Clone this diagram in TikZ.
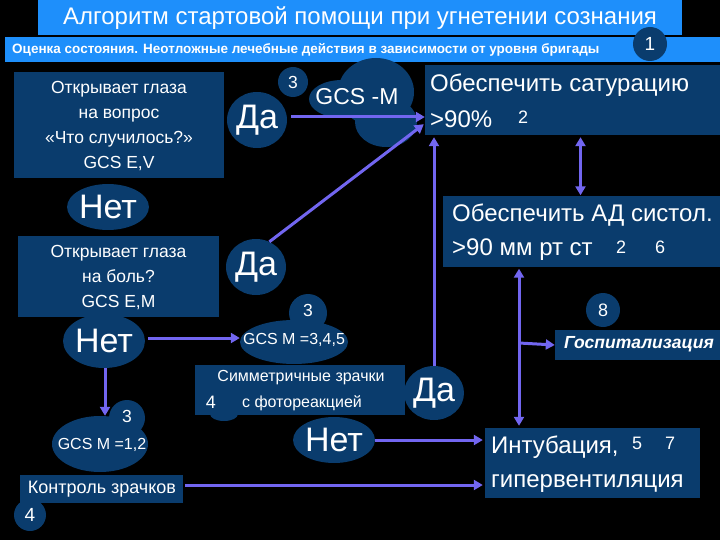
\documentclass[tikz,border=0pt]{standalone}
\usepackage{fontspec}
\setmainfont{Liberation Sans}
\usetikzlibrary{shapes.geometric,arrows.meta,calc}
\definecolor{brightblue}{HTML}{1E8FFB}
\definecolor{darkblue}{HTML}{0A3C6D}
\definecolor{arrowc}{HTML}{7266F0}
\newcommand{\fs}[1]{\fontsize{#1}{#1}\selectfont}
\newcommand{\fsl}[2]{\fontsize{#1}{#2}\selectfont}
\begin{document}
\begin{tikzpicture}[x=1pt,y=-1pt,
  box/.style={fill=darkblue, inner sep=0pt, text=white, align=center},
  oval/.style={ellipse, fill=darkblue, text=white, inner sep=0pt},
  blob/.style={fill=darkblue},
  txt/.style={text=white, inner sep=0pt},
  conn/.style={draw=arrowc, line width=3pt, -{Triangle[length=9pt,width=10pt]}},
  dconn/.style={draw=arrowc, line width=3pt, {Triangle[length=9pt,width=10pt]}-{Triangle[length=9pt,width=10pt]}},
  plain/.style={draw=arrowc, line width=3pt}
]
\fill[black] (0,0) rectangle (720,540);
\useasboundingbox (0,0) rectangle (720,540);

% title bars
\fill[brightblue] (38,0) rectangle (682,35);
\node[txt, font=\fs{24}] (title) at (360,18) {Алгоритм стартовой помощи при угнетении сознания};
\fill[brightblue] (5,37) rectangle (720,62);
\node[txt, anchor=west, font=\bfseries\fs{13.5}] (sub) at (12,50) {Оценка состояния. Неотложные лечебные действия в зависимости от уровня бригады};
\node[oval, minimum width=34pt, minimum height=34pt, font=\fs{19}] (n1) at (650,44) {1};

% box 1
\node[box, minimum width=210pt, minimum height=106pt] (q1) at (119,125) {};
\node[txt, font=\fsl{17.5}{25}, align=center] (q1t) at ($(q1.center)+(0,1)$) {Открывает глаза\\на вопрос\\«Что случилось?»\\GCS E,V};

% Da 1
\node[oval, minimum width=60pt, minimum height=56pt, font=\fs{34}] (da1) at (257,120) {Да};

% GCS -M cloud
\fill[blob] (376,92) ellipse [x radius=38, y radius=34];
\fill[blob] (386,122) ellipse [x radius=31, y radius=25];
\fill[blob] (342,99) ellipse [x radius=33, y radius=19];
\node[txt, font=\fs{23}] (gcsm) at (357,97) {GCS -M};
\node[oval, minimum width=30pt, minimum height=30pt, font=\fs{17.5}] (c3a) at (293,82) {3};

% saturation box
\node[box, minimum width=295pt, minimum height=70pt] (sat) at (572.5,100) {};
\node[txt, anchor=west, font=\fs{24}] (sat1) at (430,85) {Обеспечить сатурацию};
\node[txt, anchor=west, font=\fs{24}] (sat2) at (430,119) {>90\%};
\node[txt, font=\fs{18}] (sat3) at (523,117) {2};

% Net 1
\node[oval, minimum width=72pt, minimum height=46pt, font=\fs{34}] (net1) at (108,207) {Нет};

% AD box
\node[box, minimum width=277pt, minimum height=70pt] (ad) at (581.5,231.5) {};
\node[txt, anchor=west, font=\fs{24}] (ad1) at (452,215) {Обеспечить АД систол.};
\node[txt, anchor=west, font=\fs{24}] (ad2) at (452,250) {>90 мм рт ст};
\node[txt, font=\fs{18}] (ad3) at (621,247) {2};
\node[txt, font=\fs{18}] (ad4) at (660,247) {6};

% box 2
\node[box, minimum width=201pt, minimum height=81pt] (q2) at (118.5,276.5) {};
\node[txt, font=\fsl{17.5}{25}, align=center] (q2t) at ($(q2.center)+(0,1)$) {Открывает глаза\\на боль?\\GCS E,M};

% Da 2
\node[oval, minimum width=60pt, minimum height=56pt, font=\fs{34}] (da2) at (256,267) {Да};

% Net 2
\node[oval, minimum width=68pt, minimum height=54pt, font=\fs{34}] (net2) at (104,341) {Нет};

% GCS M = 3,4,5 cloud
\fill[blob] (308,313) circle [radius=19];
\node[oval, minimum width=108pt, minimum height=44pt] (g345) at (294,342) {};
\node[txt, font=\fs{16}] (g345t) at (294,340) {GCS M =3,4,5};
\node[txt, font=\fs{17.5}] (c3b) at (308,310) {3};

% 8 and hospitalisation
\node[oval, minimum width=34pt, minimum height=34pt, font=\fs{18}] (c8) at (603,310) {8};
\node[box, minimum width=166pt, minimum height=30pt] (hosp) at (638,345) {};
\node[txt, font=\bfseries\itshape\fs{17.5}] (hospt) at (639,344) {Госпитализация};

% symmetric pupils box
\fill[blob] (224,414) ellipse [x radius=14, y radius=7];
\node[box, minimum width=210pt, minimum height=50pt] (sym) at (300,390) {};
\node[txt, font=\fs{16}] (sym1) at (301,378) {Симметричные зрачки};
\node[txt, font=\fs{16}] (sym2) at (302,403) {с фотореакцией};
\node[txt, font=\fs{18}] (sym4) at (211,402) {4};

% Da 3 / Net 3
\node[oval, minimum width=60pt, minimum height=54pt, font=\fs{34}] (da3) at (434,393) {Да};
\node[oval, minimum width=62pt, minimum height=46pt, font=\fs{34}] (net3) at (334,440) {Нет};

% intubation box
\node[box, minimum width=215pt, minimum height=70pt] (intub) at (592.5,463) {};
\node[txt, anchor=west, font=\fs{24}] (int1) at (491,447) {Интубация,};
\node[txt, font=\fs{18}] (int5) at (637,443) {5};
\node[txt, font=\fs{18}] (int7) at (670,443) {7};
\node[txt, anchor=west, font=\fs{24}] (int2) at (491,484) {гипервентиляция};

% GCS M =1,2 cloud
\fill[blob] (127,418) circle [radius=18];
\node[oval, minimum width=96pt, minimum height=56pt] (g12) at (100,444) {};
\node[txt, font=\fs{16}] (g12t) at (102,445) {GCS M =1,2};
\node[txt, font=\fs{17.5}] (c3c) at (127,416) {3};

% pupil control
\node[box, minimum width=163pt, minimum height=28pt] (ctrl) at (101.5,489) {};
\node[txt, font=\fs{18}] (ctrlt) at (102,489) {Контроль зрачков};
\node[oval, minimum width=32pt, minimum height=32pt, font=\fs{19}] (c4) at (30,515) {4};

% connectors
\draw[conn] ($(da1.east)+(4,-3)$) -- ($(da1.east -| sat.west)+(0,-3)$);
\draw[conn] (da2.62) -- ($(sat.south west)+(-1,-11)$);
\draw[conn] ($(net2.east)+(3,-3)$) -- ($(net2.east -| g345.west)+(0,-3)$);
\draw[conn] ($(net2.south)+(1,0)$) -- ($(net2.south |- g12.north)+(1,0)$);
\draw[conn] (da3.north) -- ($(da3.north |- sat.south)+(0,2)$);
\draw[dconn] ($(ad.north |- sat.south)+(-1,2)$) -- ($(ad.north)+(-1,-1)$);
\coordinate (hx) at (519,343);
\draw[dconn] ($(hx |- ad.south)+(0,2)$) -- ($(hx |- intub.north)+(0,-2)$);
\draw[conn] (hx) -- (hosp.west);
\draw[conn] (net3.east) -- ($(net3.east -| intub.west)+(-2,0)$);
\draw[conn] ($(ctrl.east)+(2,-4)$) -- ($(ctrl.east -| intub.west)+(-2,-4)$);
\end{tikzpicture}
\end{document}
